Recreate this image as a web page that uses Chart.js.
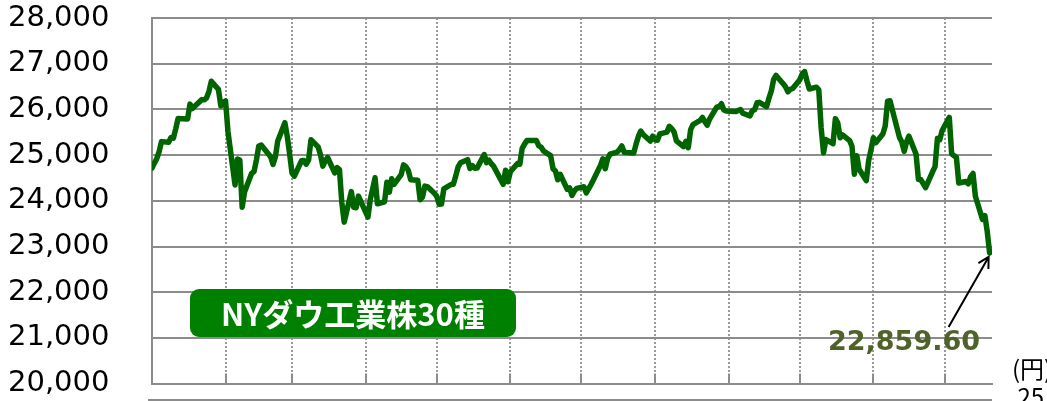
<!DOCTYPE html>
<html lang="ja">
<head>
<meta charset="utf-8">
<script src="https://cdn.jsdelivr.net/npm/chart.js@4.4.1/dist/chart.umd.min.js"></script>
<style>
  html, body { margin: 0; padding: 0; background: #fff; }
  #wrap { position: relative; width: 1047px; height: 401px; overflow: hidden; }
  .badge {
    position: absolute; left: 190px; top: 289px; width: 326px; height: 48px;
    background: #008000; border-radius: 9px; color: #fff; text-align: center;
    font: bold 31px "Noto Sans CJK JP", sans-serif; line-height: 48px;
  }
  .last {
    position: absolute; left: 828px; top: 327px; color: #4f6228;
    font: bold 27px "DejaVu Sans", sans-serif; line-height: 27px;
  }
  .unit {
    position: absolute; left: 1012px; top: 354px; color: #000; white-space: nowrap;
    font: 24px "Noto Sans CJK JP", sans-serif; line-height: 28px;
  }
</style>
</head>
<body>
<div id="wrap">
  <canvas id="dow"></canvas>
  <div class="badge">NYダウ工業株30種</div>
  <div class="last">22,859.60</div>
  <div class="unit">(円)<br>&nbsp;25</div>
</div>
<script>
// NY Dow closes, 2018 (first point = level at the start of the axis)
const dates = [
  '01-01',
  '01-02','01-03','01-04','01-05','01-08','01-09','01-10','01-11','01-12','01-16','01-17','01-18','01-19','01-22','01-23','01-24','01-25','01-26','01-29','01-30','01-31',
  '02-01','02-02','02-05','02-06','02-07','02-08','02-09','02-12','02-13','02-14','02-15','02-16','02-20','02-21','02-22','02-23','02-26','02-27','02-28',
  '03-01','03-02','03-05','03-06','03-07','03-08','03-09','03-12','03-13','03-14','03-15','03-16','03-19','03-20','03-21','03-22','03-23','03-26','03-27','03-28','03-29',
  '04-02','04-03','04-04','04-05','04-06','04-09','04-10','04-11','04-12','04-13','04-16','04-17','04-18','04-19','04-20','04-23','04-24','04-25','04-26','04-27','04-30',
  '05-01','05-02','05-03','05-04','05-07','05-08','05-09','05-10','05-11','05-14','05-15','05-16','05-17','05-18','05-21','05-22','05-23','05-24','05-25','05-29','05-30','05-31',
  '06-01','06-04','06-05','06-06','06-07','06-08','06-11','06-12','06-13','06-14','06-15','06-18','06-19','06-20','06-21','06-22','06-25','06-26','06-27','06-28','06-29',
  '07-02','07-03','07-05','07-06','07-09','07-10','07-11','07-12','07-13','07-16','07-17','07-18','07-19','07-20','07-23','07-24','07-25','07-26','07-27','07-30','07-31',
  '08-01','08-02','08-03','08-06','08-07','08-08','08-09','08-10','08-13','08-14','08-15','08-16','08-17','08-20','08-21','08-22','08-23','08-24','08-27','08-28','08-29','08-30','08-31',
  '09-04','09-05','09-06','09-07','09-10','09-11','09-12','09-13','09-14','09-17','09-18','09-19','09-20','09-21','09-24','09-25','09-26','09-27','09-28',
  '10-01','10-02','10-03','10-04','10-05','10-08','10-09','10-10','10-11','10-12','10-15','10-16','10-17','10-18','10-19','10-22','10-23','10-24','10-25','10-26','10-29','10-30','10-31',
  '11-01','11-02','11-05','11-06','11-07','11-08','11-09','11-12','11-13','11-14','11-15','11-16','11-19','11-20','11-21','11-23','11-26','11-27','11-28','11-29','11-30',
  '12-03','12-04','12-06','12-07','12-10','12-11','12-12','12-13','12-14','12-17','12-18','12-19','12-20'
];
const closes = [
  24719,
  24824,24922,25075,25295,25283,25385,25369,25574,25803,25792,26116,26017,26071,26214,26210,26252,26392,26616,26439,26077,26149,
  26186,25521,24346,24913,24893,23860,24191,24601,24640,24893,25200,25219,24964,24798,24962,25310,25709,25410,25029,
  24608,24538,24875,24884,24801,24895,25336,25179,25007,24758,24873,24947,24610,24727,24683,23958,23533,24202,23857,23849,24103,
  23644,24033,24264,24505,23933,23979,24408,24189,24483,24360,24573,24787,24748,24665,24463,24449,24024,24084,24322,24311,24163,
  24100,23925,23930,24263,24357,24361,24543,24740,24831,24900,24706,24769,24714,24715,25013,24835,24887,24812,24753,24362,24668,24416,
  24635,24814,24800,25146,25241,25317,25322,25320,25201,25175,25090,24988,24700,24657,24461,24581,24252,24284,24117,24216,24271,
  24307,24174,24356,24456,24776,24920,24700,24924,25019,25064,25120,25199,25064,25058,25044,25241,25414,25527,25451,25307,25415,
  25333,25326,25463,25502,25628,25583,25509,25313,25187,25299,25162,25558,25669,25758,25822,25733,25656,25790,26049,26064,26124,25986,25964,
  25952,25974,25995,25916,25857,25971,25998,26145,26154,26062,26246,26405,26656,26743,26562,26492,26385,26439,26458,
  26651,26774,26828,26627,26447,26487,26430,25599,25053,25340,25250,25798,25706,25379,25444,25318,25191,24583,24985,24689,24443,24875,25116,
  25381,25271,25462,25636,26181,26191,25989,25388,25287,25081,25290,25414,25018,24466,24465,24286,24640,24749,25366,25339,25538,
  25826,25027,24947,24389,24423,24370,24527,24597,24101,23592,23675,23324,22859.60
];
const monthLengths = [31, 28, 31, 30, 31, 30, 31, 31, 30, 31, 30, 31];
const yMin = 20000, yMax = 28000, yStep = 1000;
const xEnd = 354; // day of year where the axis stops (Dec 21)

const monthStart = [];
monthLengths.reduce((acc, n) => { monthStart.push(acc); return acc + n; }, 0);
const dayOfYear = s => {
  const [m, d] = s.split('-').map(Number);
  return monthStart[m - 1] + d - 1;
};
const points = dates.map((s, i) => ({ x: dayOfYear(s), y: closes[i] }));

const extras = {
  id: 'extras',
  beforeDatasetsDraw(chart) {
    const { ctx, chartArea: a, scales: { x } } = chart;
    ctx.save();
    ctx.strokeStyle = '#8c8c8c';
    ctx.lineWidth = 2;
    x.ticks.forEach(t => {
      const px = Math.round(x.getPixelForValue(t.value));
      ctx.beginPath();
      ctx.moveTo(px, a.bottom - 10);
      ctx.lineTo(px, a.bottom);
      ctx.stroke();
    });
    ctx.fillStyle = '#8c8c8c';
    ctx.fillRect(a.left - 4, 399, a.right - a.left + 4, 2);
    ctx.restore();
  },
  afterDatasetsDraw(chart) {
    const { ctx } = chart;
    const pts = chart.getDatasetMeta(0).data;
    const p = pts[pts.length - 1];
    const tip = { x: p.x - 1, y: p.y + 4 };
    const tail = { x: tip.x - 40, y: tip.y + 70 };
    const ang = Math.atan2(tip.y - tail.y, tip.x - tail.x);
    ctx.save();
    ctx.strokeStyle = '#000';
    ctx.lineWidth = 2;
    ctx.beginPath();
    ctx.moveTo(tail.x, tail.y);
    ctx.lineTo(tip.x, tip.y);
    ctx.moveTo(tip.x - 12 * Math.cos(ang - 0.5), tip.y - 12 * Math.sin(ang - 0.5));
    ctx.lineTo(tip.x, tip.y);
    ctx.lineTo(tip.x - 12 * Math.cos(ang + 0.5), tip.y - 12 * Math.sin(ang + 0.5));
    ctx.stroke();
    ctx.restore();
  }
};

new Chart(document.getElementById('dow'), {
  type: 'line',
  data: {
    datasets: [{
      data: points,
      borderColor: '#006400',
      borderWidth: 5.5,
      borderJoinStyle: 'round',
      borderCapStyle: 'round',
      pointRadius: 0,
      tension: 0,
      fill: false,
    }]
  },
  options: {
    responsive: true,
    maintainAspectRatio: false,
    animation: false,
    layout: { padding: { left: 8, top: 18, right: 55, bottom: 17 } },
    plugins: { legend: { display: false }, tooltip: { enabled: false } },
    scales: {
      x: {
        type: 'linear',
        min: 0,
        max: xEnd,
        afterBuildTicks: s => { s.ticks = monthStart.slice(1).map(v => ({ value: v })); },
        afterFit: s => { s.height = 0; },
        ticks: { display: false },
        grid: { color: '#9a9a9a', lineWidth: 2, drawTicks: false },
        border: { display: true, color: '#8c8c8c', width: 2, dash: [2, 2] }
      },
      y: {
        min: yMin,
        max: yMax,
        afterFit: s => { s.width = 144; },
        ticks: {
          stepSize: yStep,
          padding: 0,
          crossAlign: 'far',
          color: '#000',
          font: { family: 'DejaVu Sans', size: 29 },
          callback: v => v.toLocaleString('en-US')
        },
        grid: { color: '#8c8c8c', lineWidth: 2, drawTicks: false },
        border: { display: true, color: '#8c8c8c', width: 2 }
      }
    }
  },
  plugins: [extras]
});
</script>
</body>
</html>
